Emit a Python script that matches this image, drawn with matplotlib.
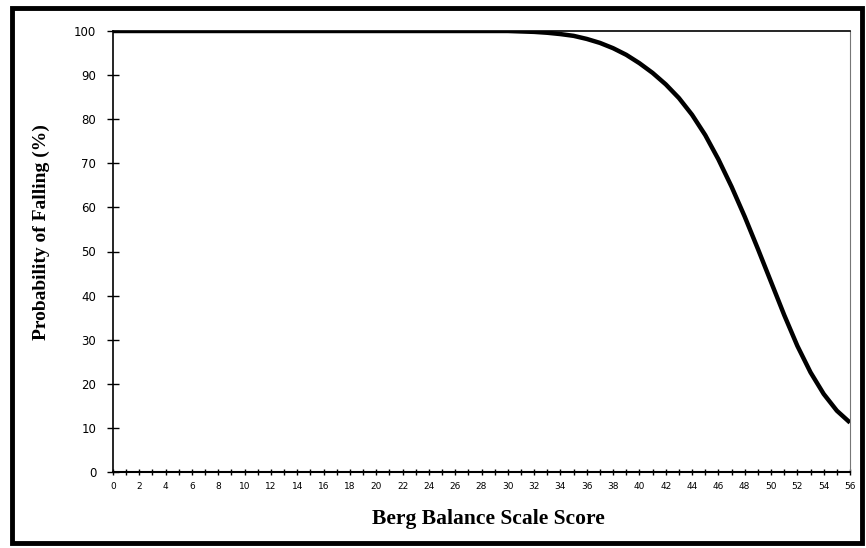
import matplotlib.pyplot as plt
from matplotlib.patches import Rectangle
from matplotlib.ticker import MultipleLocator

# Berg Balance Scale score vs probability of falling (%)
scores = [0, 5, 10, 15, 20, 25, 28,
          30, 31, 32, 33, 34, 35, 36, 37, 38, 39, 40, 41, 42, 43, 44, 45,
          46, 47, 48, 49, 50, 51, 52, 53, 54, 55, 56]
prob_fall = [100, 100, 100, 100, 100, 100, 100,
             100, 99.9, 99.8, 99.6, 99.3, 98.9, 98.2, 97.3, 96.1, 94.6, 92.7, 90.5, 87.9, 84.8, 81.0, 76.4,
             70.9, 64.7, 57.9, 50.6, 43.1, 35.6, 28.6, 22.6, 17.7, 13.9, 11.2]

fig = plt.figure(figsize=(8.66, 5.48), dpi=100)
ax = fig.add_axes([113 / 866, 1 - 472 / 548, (850 - 113) / 866, (472 - 31) / 548])

ax.plot(scores, prob_fall, color='black', lw=3.2, solid_capstyle='butt',
        solid_joinstyle='round', zorder=3)

ax.set_xlim(0, 56)
ax.set_ylim(0, 100)
ax.xaxis.set_major_locator(MultipleLocator(2))
ax.xaxis.set_minor_locator(MultipleLocator(1))
ax.yaxis.set_major_locator(MultipleLocator(10))
ax.tick_params(axis='x', which='both', direction='inout', length=5, width=1, labelsize=6.5, pad=5)
ax.tick_params(axis='y', which='major', direction='inout', length=8, width=1, labelsize=8.5, pad=8)

ax.spines['left'].set_linewidth(1.2)
ax.spines['bottom'].set_linewidth(1.5)
ax.spines['top'].set_linewidth(1.2)
ax.spines['right'].set_linewidth(0.8)
ax.spines['right'].set_color('#777777')
ax.spines['right'].set_linestyle((0, (1, 1)))

ax.set_xlabel('Berg Balance Scale Score', fontfamily='Liberation Serif',
              fontweight='bold', fontsize=15.5)
ax.set_ylabel('Probability of Falling (%)', fontfamily='Liberation Serif',
              fontweight='bold', fontsize=14)
ax.xaxis.set_label_coords(0.51, -0.085)
ax.yaxis.set_label_coords(-0.085, 0.545)

# outer frame around the whole chart
fig.patches.append(Rectangle((12 / 866, 1 - 543 / 548), (862 - 12) / 866, (543 - 8) / 548,
                             transform=fig.transFigure, fill=False,
                             edgecolor='black', lw=3.5))

fig.savefig('out.png', dpi=100)
